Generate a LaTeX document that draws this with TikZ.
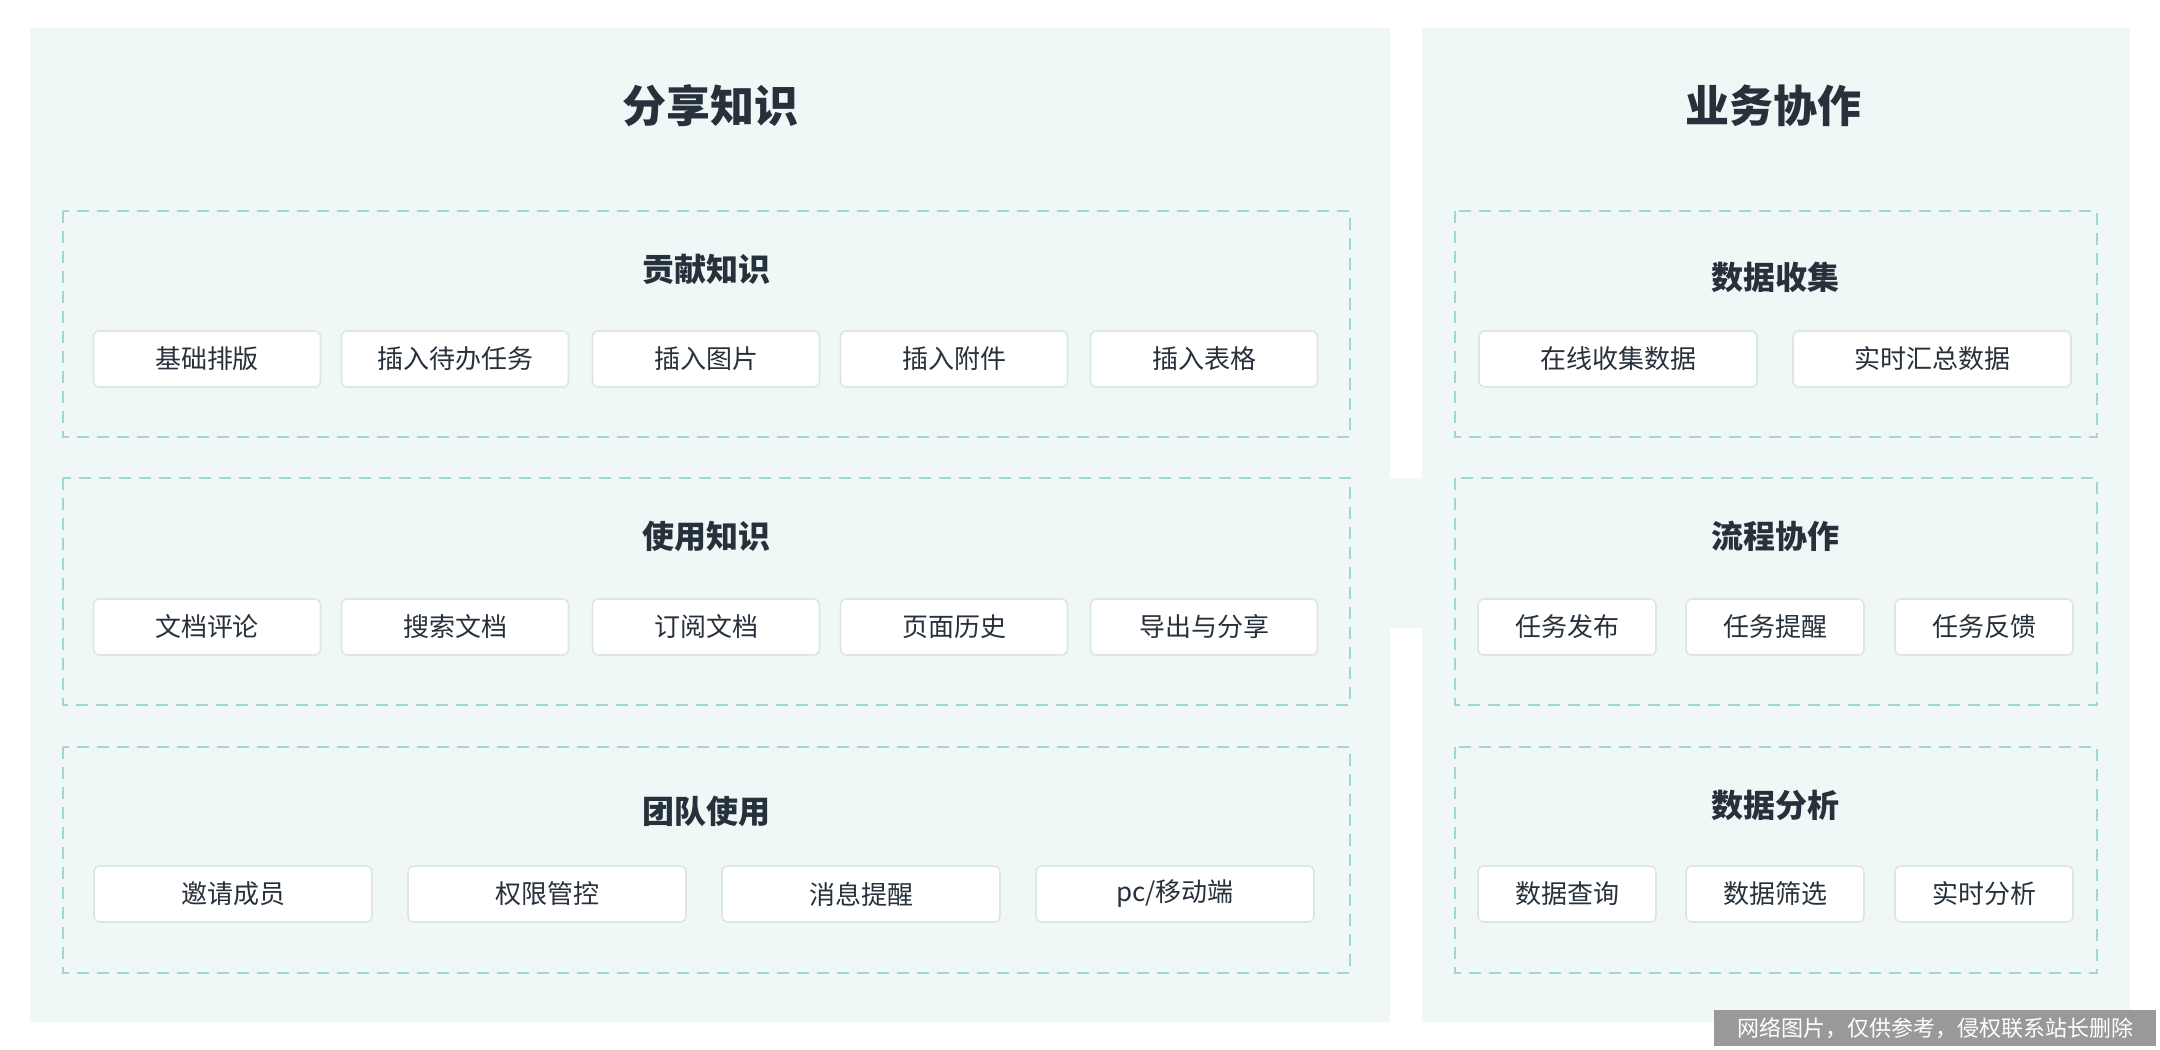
\documentclass[tikz,border=0pt]{standalone}
\usepackage{fontspec}
\setmainfont{Noto Sans CJK SC}
\definecolor{panelbg}{HTML}{EFF8F7}
\definecolor{dashline}{HTML}{9FD9CD}
\definecolor{chipline}{HTML}{DCE7E5}
\definecolor{txt}{HTML}{27313B}
\tikzset{
  panel/.style={fill=panelbg,draw=none},
  group/.style={draw=dashline,dash pattern=on 6pt off 4pt,line width=0.6pt},
  maintitle/.style={text=txt,font=\fontsize{22}{22}\selectfont\bfseries},
  subtitle/.style={text=txt,font=\fontsize{16}{16}\selectfont\bfseries},
  chip/.style={draw=chipline,fill=white,rounded corners=3pt,line width=0.8pt,
    minimum height=28pt,text=txt,font=\fontsize{13}{13}\selectfont,inner sep=0pt},
}
\begin{document}
\begin{tikzpicture}[x=0.5pt,y=-0.5pt]
\useasboundingbox (0,0) rectangle (2160,1050);
\fill[white] (0,0) rectangle (2160,1050);
% panels
\fill[panel] (30,28) rectangle (1390,1022);
\fill[panel] (1422,28) rectangle (2130,1022);
\fill[panel] (1385,478) rectangle (1427,628);
\node[maintitle] (share) at (710,106) {分享知识};
\node[maintitle] (biz) at (1773,106) {业务协作};
% groups
\foreach \ya/\yb in {211/437,478/705,747/973}{
  \draw[group] (63,\ya) rectangle (1350,\yb);
  \draw[group] (1455,\ya) rectangle (2097,\yb);
}
\node[subtitle] (contrib) at (706,269) {贡献知识};
\node[subtitle] (use) at (706,536) {使用知识};
\node[subtitle] (team) at (706,811) {团队使用};
\node[subtitle] (collect) at (1775,277) {数据收集};
\node[subtitle] (flow) at (1775,536) {流程协作};
\node[subtitle] (analyse) at (1775,805) {数据分析};
% chips
\foreach \x/\t [count=\i] in {207/基础排版,455/插入待办任务,706/插入图片,954/插入附件,1204/插入表格}
  \node[chip,minimum width=113.5pt] (c1\i) at (\x,359) {\t};
\foreach \x/\t [count=\i] in {207/文档评论,455/搜索文档,706/订阅文档,954/页面历史,1204/导出与分享}
  \node[chip,minimum width=113.5pt] (c2\i) at (\x,627) {\t};
\foreach \x/\t [count=\i] in {233/邀请成员,547/权限管控,861/消息提醒,1175/{pc/移动端}}
  \node[chip,minimum width=139pt] (c3\i) at (\x,894) {\t};
\foreach \x/\t [count=\i] in {1618/在线收集数据,1932/实时汇总数据}
  \node[chip,minimum width=139pt] (r1\i) at (\x,359) {\t};
\foreach \x/\t [count=\i] in {1567/任务发布,1775/任务提醒,1984/任务反馈}
  \node[chip,minimum width=89pt] (r2\i) at (\x,627) {\t};
\foreach \x/\t [count=\i] in {1567/数据查询,1775/数据筛选,1984/实时分析}
  \node[chip,minimum width=89pt] (r3\i) at (\x,894) {\t};
% watermark
\node[fill=black!40,text=white,font=\fontsize{11}{11}\selectfont,inner sep=2pt,
  minimum width=221pt,minimum height=18pt] (mark) at (1935,1028) {网络图片，仅供参考，侵权联系站长删除};
\end{tikzpicture}
\end{document}
